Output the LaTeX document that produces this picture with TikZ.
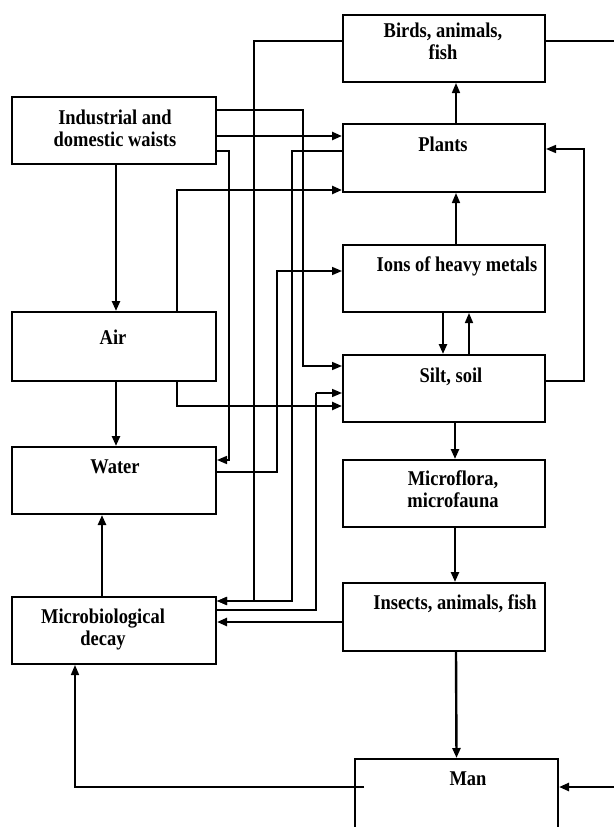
\documentclass[tikz,border=0pt]{standalone}
\usepackage{fontspec}
\setmainfont{Liberation Serif}[FakeStretch=0.88]
\usetikzlibrary{arrows.meta}
\begin{document}
\begin{tikzpicture}[x=1pt,y=-1pt,
  box/.style={draw,line width=2pt,inner sep=0pt,minimum width=204pt,minimum height=67pt},
  txt/.style={align=center,inner sep=0pt,font=\bfseries\fontsize{21}{22}\selectfont},
  arr/.style={line width=2.4pt,-{Triangle[length=10pt,width=8pt]}},
  thinarr/.style={line width=1.6pt,-{Triangle[length=10pt,width=8pt]}},
  thinln/.style={line width=1.6pt}]
\useasboundingbox (0,0) rectangle (613,827);
% boxes
\node[box] (ind) at (114,130.5) {};
\node[box,minimum height=69pt] (air) at (114,346.5) {};
\node[box] (water) at (114,480.5) {};
\node[box] (micro) at (114,630.5) {};
\node[box,minimum width=202pt] (birds) at (444,48.5) {};
\node[box,minimum width=202pt,minimum height=68pt] (plants) at (444,158) {};
\node[box,minimum width=202pt] (ions) at (444,278.5) {};
\node[box,minimum width=202pt] (silt) at (444,388.5) {};
\node[box,minimum width=202pt] (mflora) at (444,493.5) {};
\node[box,minimum width=202pt,minimum height=68pt] (insects) at (444,617) {};
\node[box,minimum width=203pt,minimum height=70pt] (man) at (456.5,794) {};
% texts
\node[txt] (indT) at (115,128) {Industrial and\\domestic waists};
\node[txt] (airT) at (113,337) {Air};
\node[txt] (waterT) at (115,467) {Water};
\node[txt] (microT) at (103,629) {Microbiological\\decay};
\node[txt] (birdsT) at (443,41) {Birds, animals,\\fish};
\node[txt] (plantsT) at (443,144) {Plants};
\node[txt] (ionsT) at (457,266) {Ions of heavy metals};
\node[txt] (siltT) at (451,377) {Silt, soil};
\node[txt] (mfloraT) at (453,489) {Microflora,\\microfauna};
\node[txt] (insectsT) at (455,604) {Insects, animals, fish};
\node[txt] (manT) at (468,779) {Man};
% helper coordinates
\coordinate (m1) at ([shift={(0,5)}]micro.north east);
\coordinate (s1) at ([shift={(0,12)}]silt.north west);
\coordinate (s2) at ([shift={(0,39)}]silt.north west);
\coordinate (s3) at ([shift={(0,52)}]silt.north west);
\coordinate (w1) at ([shift={(0,14)}]water.north east);
\coordinate (n1) at ([shift={(0,27)}]ions.north west);
\coordinate (p2) at ([shift={(0,-3)}]plants.south west);
\coordinate (p3) at ([shift={(0,26)}]plants.north east);
\coordinate (i2) at ([shift={(0,40)}]ind.north east);
\coordinate (e1) at ([shift={(0,40)}]insects.north west);
\coordinate (m2) at ([shift={(0,29)}]man.north east);
% left column
\draw[arr] ([xshift=2pt]ind.south) -- ([xshift=2pt]air.north);
\draw[arr] ([xshift=2pt]air.south) -- ([xshift=2pt]water.north);
\draw[arr] ([xshift=-12pt]micro.north) -- ([xshift=-12pt]water.south);
\draw[thinarr] ([shift={(10,29)}]man.north west) -| ([xshift=-39pt]micro.south);
% right column
\draw[thinarr] ([xshift=12pt]plants.north) -- ([xshift=12pt]birds.south);
\draw[thinarr] ([xshift=12pt]ions.north) -- ([xshift=12pt]plants.south);
\draw[arr] ([xshift=-1pt]ions.south) -- ([xshift=-1pt]silt.north);
\draw[thinarr] ([xshift=25pt]silt.north) -- ([xshift=25pt]ions.south);
\draw[arr] ([xshift=11pt]silt.south) -- ([xshift=11pt]mflora.north);
\draw[arr] ([xshift=11pt]mflora.south) -- ([xshift=11pt]insects.north);
\draw[arr] ([xshift=12pt]insects.south) -- (man.north);
% cross connections
\draw[thinarr] ([shift={(0,14)}]ind.north east) -| ([xshift=-39pt]s1) -- (s1);
\draw[arr] (i2) -- (i2 -| plants.west);
\draw[thinarr] ([shift={(0,55)}]ind.north east) -| ([xshift=12pt]w1) -- (w1);
\draw[thinarr] ([shift={(0,27)}]birds.north west) -| ([xshift=37pt]m1) -- (m1);
\draw[thinarr] ([shift={(0,28)}]plants.north west) -| ([xshift=75pt]m1) -- (m1);
\draw[arr] ([xshift=166pt]air.north west) |- (p2);
\draw[arr] ([xshift=166pt]air.south west) |- (s3);
\draw[thinarr] ([shift={(0,26)}]water.north east) -| ([xshift=-65pt]n1) -- (n1);
\draw[thinln] ([shift={(0,14)}]micro.north east) -| ([xshift=-26pt]s2);
\draw[thinarr] ([xshift=-26pt]s2) -- (s2);
\draw[thinarr] ([shift={(0,27)}]silt.north east) -| ([xshift=38pt]p3) -- (p3);
\draw[arr] (e1) -- (e1 -| micro.east);
\draw[arr] ([shift={(0,27)}]birds.north east) -| ([xshift=70pt]m2) -- (m2);
\end{tikzpicture}
\end{document}
